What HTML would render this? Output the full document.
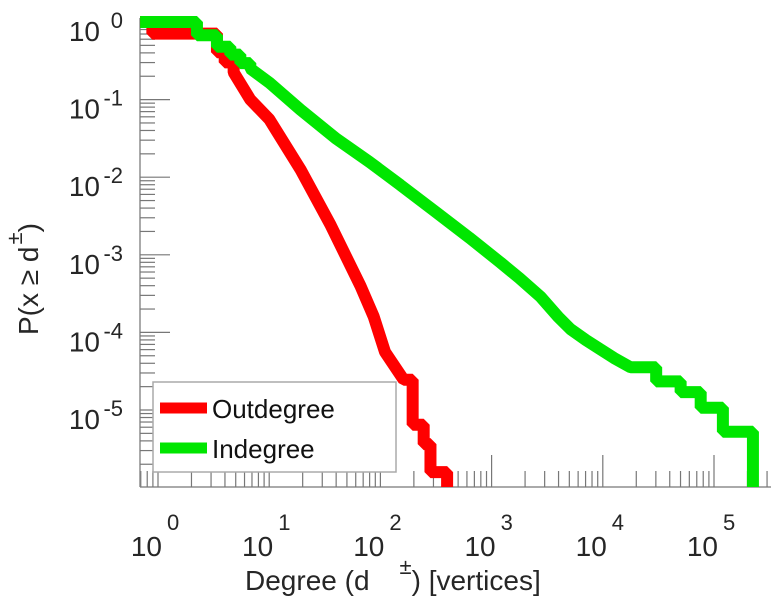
<!DOCTYPE html>
<html><head><meta charset="utf-8"><style>
html,body{margin:0;padding:0;background:#fff;}
svg{display:block;font-family:"Liberation Sans",sans-serif;}
</style></head><body>
<svg id="chart" width="774" height="600" viewBox="0 0 774 600" xmlns="http://www.w3.org/2000/svg">
<g id="ticks"></g>
<g id="series"></g>
<g id="labels"></g>
<text x="245" y="590" font-size="28" fill="#262626">Degree (d<tspan dx="30" dy="-16" font-size="22">±</tspan><tspan dy="16">) [vertices]</tspan></text>
<text transform="translate(38,335) rotate(-90)" font-size="28" fill="#262626">P(x ≥ d<tspan dx="2" dy="-16" font-size="22">±</tspan><tspan dy="16">)</tspan></text>
<g>
<rect x="153" y="382" width="243" height="90" fill="#fff" stroke="#aaa" stroke-width="1.5"/>
<line x1="160" y1="408" x2="207" y2="408" stroke="#ff0000" stroke-width="11"/>
<text x="212" y="418" font-size="26" fill="#111">Outdegree</text>
<line x1="160" y1="448" x2="207" y2="448" stroke="#00e600" stroke-width="11"/>
<text x="212" y="458" font-size="26" fill="#111">Indegree</text>
</g>
</svg>
<script>
const xTickExps = [0,1,2,3,4,5];
const yTickExps = [0,-1,-2,-3,-4,-5];
const outDeg = [0.69,0.89,3.39,3.98,4.79,6.76,10,19.1,35.5,66,87,110,162,195,245,282];
const outP   = [1,0.708,0.407,0.302,0.224,0.1,0.056,0.0126,0.00245,4.0e-4,1.6e-4,5.6e-5,2.45e-5,6.46e-6,3.63e-6,1.58e-6];
const outEnd = 398;
const inDeg = [0.69,2.24,3.39,4.47,5.5,6.76,10,19.1,39.8,79.4,151,316,631,1202,1778,2754,3981,5129,7079,9550,12590,17780,30200,50100,75900,120200];
const inP   = [1,0.676,0.479,0.380,0.295,0.251,0.166,0.0741,0.0316,0.0158,0.00794,0.00355,0.00166,7.94e-4,5.01e-4,2.88e-4,1.58e-4,1.10e-4,7.94e-5,6.03e-5,4.68e-5,3.55e-5,2.34e-5,1.70e-5,1.07e-5,5.25e-6];
const inEnd = 223900;

const NS="http://www.w3.org/2000/svg";
const X0=158, XS=111.2, Y0=22, YS=77.6, LEFT=140, RIGHT=771, BOTTOM=487, TOP=18;
function xs(d){return X0+XS*Math.log10(d);}
function ys(p){return Math.min(BOTTOM, Y0-YS*Math.log10(p));}
function mk(tag,attrs,parent){const e=document.createElementNS(NS,tag);for(const k in attrs)e.setAttribute(k,attrs[k]);parent.appendChild(e);return e;}
const ticks=document.getElementById('ticks'), series=document.getElementById('series'), labels=document.getElementById('labels');

let ax=mk('line',{x1:LEFT,y1:TOP,x2:LEFT,y2:BOTTOM,stroke:'#aaa','stroke-width':2},ticks);


let bx=mk('line',{x1:LEFT,y1:BOTTOM,x2:RIGHT,y2:BOTTOM,stroke:'#aaa','stroke-width':2},ticks);



for(let e=0;e>=-7;e--){
  for(let m=1;m<10;m++){
    const v=m*Math.pow(10,e);
    const yy=Y0-YS*Math.log10(v);
    if(yy<TOP||yy>BOTTOM)continue;
    const len=m===1?30:15;
    const t=mk('line',{x1:LEFT,y1:yy,x2:LEFT+len,y2:yy,stroke:'#777','stroke-width':1.2},ticks);
    
    
  }
}
for(let e=-1;e<=6;e++){
  for(let m=1;m<10;m++){
    const xx=xs(m*Math.pow(10,e));
    if(xx<LEFT||xx>RIGHT)continue;
    const len=m===1?32:16;
    const t=mk('line',{x1:xx,y1:BOTTOM,x2:xx,y2:BOTTOM-len,stroke:'#777','stroke-width':1.2},ticks);
    
    
  }
}
yTickExps.forEach(e=>{
  const y=Y0-YS*e;
  const g=mk('g',{},labels);
  
  
  mk('text',{x:100,y:y+19,'text-anchor':'end','font-size':28,fill:'#262626'},g).textContent='10';
  mk('text',{x:123,y:y+6,'text-anchor':'end','font-size':22,fill:'#262626'},g).textContent=String(e);
});
xTickExps.forEach(e=>{
  const x=X0+XS*e;
  const g=mk('g',{},labels);
  
  
  mk('text',{x:x+4,y:556,'text-anchor':'end','font-size':28,fill:'#262626'},g).textContent='10';
  mk('text',{x:x+9,y:530,'font-size':22,fill:'#262626'},g).textContent=String(e);
});
function seriesPath(deg,p,end,lineFrom,lineTo){
  let d='M'+xs(deg[0])+','+ys(p[0]);
  for(let i=1;i<deg.length;i++){
    if(i>lineFrom && i<=lineTo){ d+=' L'+xs(deg[i])+','+ys(p[i]); }
    else { d+=' H'+xs(deg[i])+' V'+ys(p[i]); }
  }
  d+=' H'+xs(end)+' V'+BOTTOM;
  return d;
}
const red=mk('path',{d:seriesPath(outDeg,outP,outEnd,4,12),fill:'none',stroke:'#ff0000','stroke-width':12,'stroke-linejoin':'bevel'},series);


const green=mk('path',{d:seriesPath(inDeg,inP,inEnd,5,21),fill:'none',stroke:'#00e600','stroke-width':12,'stroke-linejoin':'bevel'},series);


</script>
</body></html>
